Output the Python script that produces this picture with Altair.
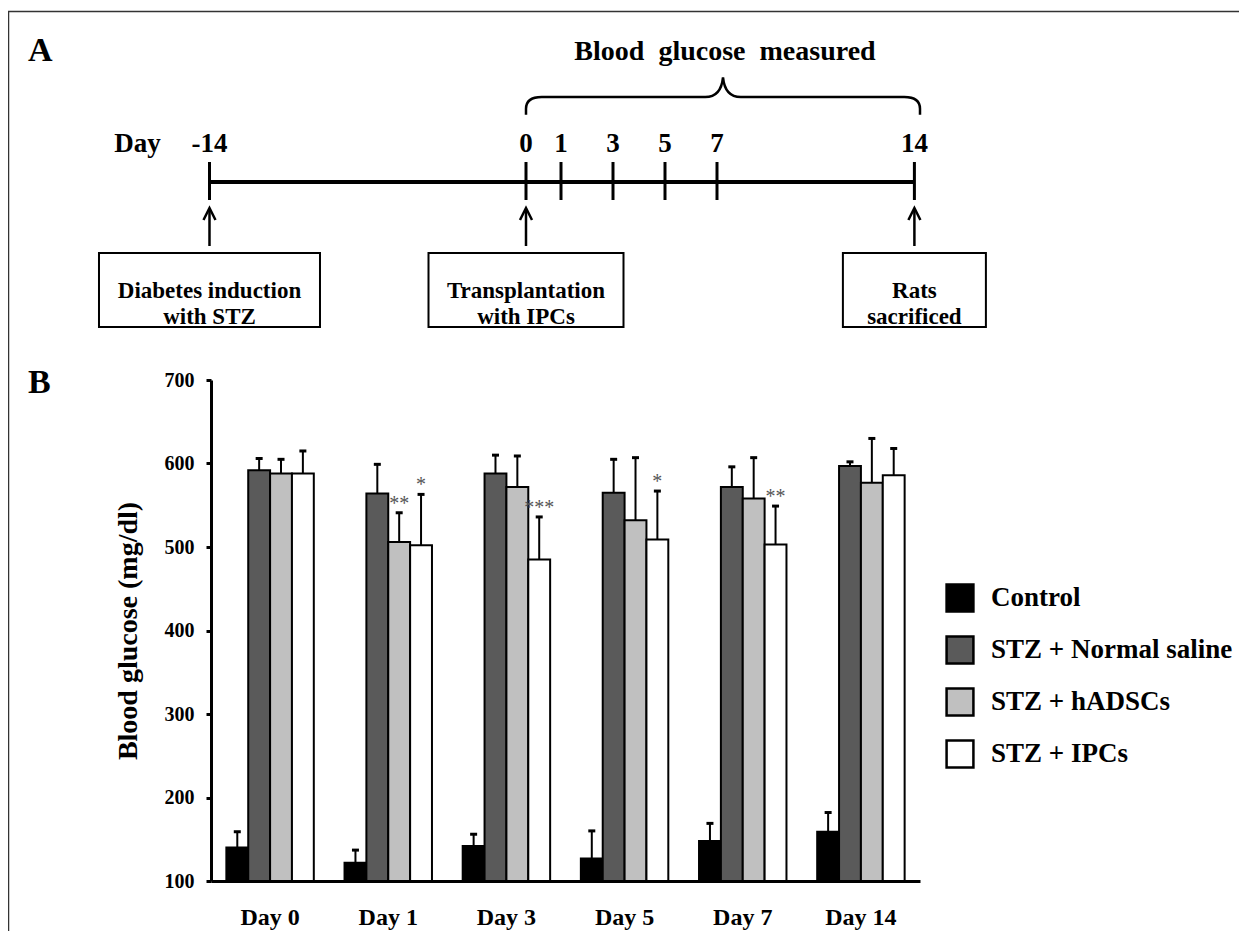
import altair as alt
import pandas as pd

# ---------------- data (panel B) ----------------
days = ["Day 0", "Day 1", "Day 3", "Day 5", "Day 7", "Day 14"]
groups = ["Control", "STZ + Normal saline", "STZ + hADSCs", "STZ + IPCs"]
group_colors = ["#000000", "#5a5a5a", "#c0c0c0", "#ffffff"]

control_mean = [140, 122, 142, 127, 148, 159]
control_err = [19, 15, 14, 33, 21, 23]
saline_mean = [592, 564, 588, 565, 572, 597]
saline_err = [14, 35, 22, 40, 24, 5]
hadsc_mean = [588, 506, 572, 532, 558, 577]
hadsc_err = [17, 35, 37, 75, 49, 53]
ipc_mean = [588, 502, 485, 509, 503, 586]
ipc_err = [27, 61, 51, 58, 46, 32]

sig_days = ["Day 1", "Day 1", "Day 3", "Day 5", "Day 7"]
sig_groups = ["STZ + hADSCs", "STZ + IPCs", "STZ + IPCs", "STZ + IPCs", "STZ + IPCs"]
sig_marks = ["**", "*", "***", "*", "**"]

y_ticks = [100, 200, 300, 400, 500, 600, 700]

# ---------------- data (panel A timeline) ----------------
timeline_days = [-14, 0, 1, 3, 5, 7, 14]
timeline_labels = ["-14", "0", "1", "3", "5", "7", "14"]
event_days = [-14, 0, 14]
event_texts = ["Diabetes induction\nwith STZ", "Transplantation\nwith IPCs", "Rats\nsacrificed"]

# ---------------- build tables ----------------
means = [control_mean, saline_mean, hadsc_mean, ipc_mean]
errs = [control_err, saline_err, hadsc_err, ipc_err]
rows = []
for g, ms, es in zip(groups, means, errs):
    for d, m, e in zip(days, ms, es):
        rows.append({"day": d, "group": g, "mean": m, "upper": m + e})
df = pd.DataFrame(rows)

upper_lookup = {(r["day"], r["group"]): r["upper"] for r in rows}
sig_df = pd.DataFrame({
    "day": sig_days,
    "group": sig_groups,
    "mark": sig_marks,
    "upper": [upper_lookup[(d, g)] for d, g in zip(sig_days, sig_groups)],
})

FONT = "Liberation Serif"

x_scale = alt.Scale(paddingInner=0.26, paddingOuter=0.13)
xoff = alt.XOffset("group:N", sort=groups, scale=alt.Scale(paddingInner=0, paddingOuter=0))
y_scale = alt.Scale(domain=[100, 700], nice=False, zero=False)

bars = alt.Chart(df).mark_bar(stroke="black", strokeWidth=2).encode(
    x=alt.X("day:N", sort=days, scale=x_scale,
            axis=alt.Axis(title=None, labelAngle=0, ticks=False, tickSize=0,
                          labelPadding=24, labelFont=FONT, labelFontSize=24,
                          labelFontWeight="bold", labelColor="black",
                          domainColor="black", domainWidth=3)),
    xOffset=xoff,
    y=alt.Y("mean:Q", scale=y_scale,
            axis=alt.Axis(title="Blood glucose (mg/dl)", values=y_ticks, grid=False,
                          domainColor="black", domainWidth=3, tickColor="black",
                          tickWidth=3, tickSize=5, labelPadding=12, labelFont=FONT,
                          labelFontSize=20, labelFontWeight="bold", labelColor="black",
                          titleFont=FONT, titleFontSize=28, titleFontWeight="bold",
                          titleColor="black", titlePadding=22)),
    y2=alt.Y2Datum(100),
    color=alt.Color("group:N", sort=groups,
                    scale=alt.Scale(domain=groups, range=group_colors),
                    legend=alt.Legend(title=None, orient="none", legendX=734, legendY=203,
                                      symbolType="square", symbolSize=720,
                                      symbolStrokeColor="black", symbolStrokeWidth=2.5,
                                      symbolOpacity=1, labelFont=FONT, labelFontSize=27,
                                      labelFontWeight="bold", labelColor="black",
                                      labelLimit=400, rowPadding=14, labelOffset=16,
                                      padding=0)),
)

err_rules = alt.Chart(df).mark_rule(color="black", strokeWidth=2).encode(
    x=alt.X("day:N", sort=days, scale=x_scale),
    xOffset=xoff,
    y=alt.Y("mean:Q", scale=y_scale),
    y2="upper:Q",
)

err_caps = alt.Chart(df).mark_tick(color="black", thickness=3, size=7, opacity=1).encode(
    x=alt.X("day:N", sort=days, scale=x_scale),
    xOffset=xoff,
    y=alt.Y("upper:Q", scale=y_scale),
)

stars = alt.Chart(sig_df).mark_text(font=FONT, fontSize=20, color="#555555",
                                    baseline="alphabetic", dy=-3).encode(
    x=alt.X("day:N", sort=days, scale=x_scale),
    xOffset=xoff,
    y=alt.Y("upper:Q", scale=y_scale),
    text="mark:N",
)

panelB = alt.layer(bars, err_rules, err_caps, stars)

# ---------------- panel A (schematic timeline) ----------------
day_scale = alt.Scale(domain=[-14, 0, 1, 7, 14], range=[-6, 315, 350, 506, 709])
one = pd.DataFrame({"k": [0]})
tl_df = pd.DataFrame({"d": timeline_days, "lab": timeline_labels})
line_df = pd.DataFrame({"s": [min(timeline_days)], "e": [max(timeline_days)]})
box_widths = [221, 195, 143]
ev_df = pd.DataFrame({"d": event_days, "txt": event_texts, "w": box_widths})

def dx(field):
    return alt.X(field, scale=day_scale, axis=None)

frame_top = alt.Chart(one).mark_rule(color="#333333", strokeWidth=1.5).encode(
    x=alt.value(-203), x2=alt.value(1100), y=alt.value(-368.5))
frame_left = alt.Chart(one).mark_rule(color="#333333", strokeWidth=1.5).encode(
    x=alt.value(-202.5), y=alt.value(-369), y2=alt.value(700))

label_a = alt.Chart(one).mark_text(text="A", font=FONT, fontSize=34, fontWeight="bold",
                                   align="left", baseline="middle", color="black").encode(
    x=alt.value(-183), y=alt.value(-329))
label_b = alt.Chart(one).mark_text(text="B", font=FONT, fontSize=34, fontWeight="bold",
                                   align="left", baseline="middle", color="black").encode(
    x=alt.value(-183), y=alt.value(3))

measured = alt.Chart(one).mark_text(text="Blood\u00a0 glucose\u00a0 measured", font=FONT,
                                    fontSize=28, fontWeight="bold", align="center",
                                    baseline="middle", color="black").encode(
    x=alt.value(514), y=alt.value(-328))

brace_path = ("M-1,0.09L-1,0.06Q-1,0 -0.92,0L-0.09,0Q-0.01,0 0,-0.1"
              "Q0.01,0 0.09,0L0.92,0Q1,0 1,0.06L1,0.09")
brace = alt.Chart(one).mark_point(shape=brace_path, filled=False, size=155236,
                                  strokeWidth=2.5, color="black", opacity=1).encode(
    x=alt.value(512), y=alt.value(-283))

main_line = alt.Chart(line_df).mark_rule(color="black", strokeWidth=4).encode(
    x=dx("s:Q"), x2="e:Q", y=alt.value(-198))

tl_ticks = alt.Chart(tl_df).mark_rule(color="black", strokeWidth=3).encode(
    x=dx("d:Q"), y=alt.value(-218), y2=alt.value(-180))

tl_labels = alt.Chart(tl_df).mark_text(font=FONT, fontSize=27, fontWeight="bold",
                                       baseline="alphabetic", color="black").encode(
    x=dx("d:Q"), y=alt.value(-228), text="lab:N")

day_word = alt.Chart(line_df).mark_text(text="Day", font=FONT, fontSize=27, fontWeight="bold",
                                        baseline="alphabetic", dx=-72, color="black").encode(
    x=dx("s:Q"), y=alt.value(-228))

arrows = alt.Chart(ev_df).mark_rule(color="black", strokeWidth=2.5).encode(
    x=dx("d:Q"), y=alt.value(-170), y2=alt.value(-134))

heads = alt.Chart(ev_df).mark_point(shape="M-0.5,1L0,0L0.5,1", filled=False, size=576,
                                    strokeWidth=2.5, color="black", opacity=1).encode(
    x=dx("d:Q"), y=alt.value(-172))

boxes = alt.Chart(ev_df).mark_bar(orient="vertical", fill="white", stroke="black",
                                  strokeWidth=2).encode(
    x=dx("d:Q"), size=alt.Size("w:Q", scale=None, legend=None),
    y=alt.value(-127), y2=alt.value(-53))

box_text = alt.Chart(ev_df).mark_text(font=FONT, fontSize=23, fontWeight="bold",
                                      lineBreak="\n", lineHeight=26, baseline="middle",
                                      align="center", color="black").encode(
    x=dx("d:Q"), y=alt.value(-89), text="txt:N")

panelA = alt.layer(frame_top, frame_left, label_a, label_b, measured, brace, main_line,
                   tl_ticks, tl_labels, day_word, arrows, heads, boxes, box_text)

chart = alt.layer(panelB, panelA).resolve_scale(x="independent").properties(
    width=709, height=501,
    autosize=alt.AutoSizeParams(type="none"),
    padding={"left": 203, "top": 372, "right": 319, "bottom": 50},
).configure(font=FONT).configure_view(stroke=None)

chart.save("out.html", embed_options={"renderer": "svg", "actions": False})
